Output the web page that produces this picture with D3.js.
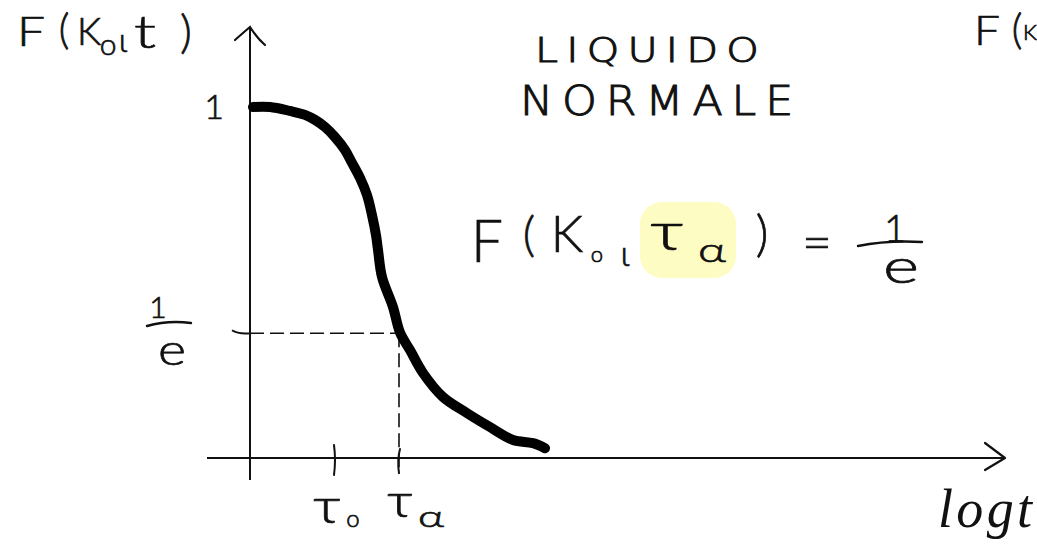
<!DOCTYPE html>
<html>
<head>
<meta charset="utf-8">
<script src="https://cdn.jsdelivr.net/npm/d3@7"></script>
<style>
  html, body { margin: 0; padding: 0; background: #fff; overflow: hidden; }
  svg { display: block; }
  text { font-family: Lato, "Open Sans", "DejaVu Sans", sans-serif; font-weight: 300;
         fill: #111; stroke: #111; stroke-width: 0.7px; text-anchor: middle; }
</style>
</head>
<body>
<svg id="chart" width="1037" height="544"></svg>
<script>
// Relaxation function F(k0, t) of a normal liquid versus log t (arbitrary units)
const logTime = [0.06, 0.40, 0.80, 1.10, 1.30, 1.50, 1.70, 1.90, 2.04, 2.20, 2.34, 2.44, 2.52, 2.56, 2.64, 2.86, 3.00, 3.20, 3.46, 3.86, 4.34, 4.80, 5.26, 5.66, 5.90];
const fValues = [1.000, 1.000, 0.989, 0.978, 0.964, 0.944, 0.916, 0.880, 0.844, 0.802, 0.754, 0.698, 0.642, 0.601, 0.525, 0.441, 0.370, 0.321, 0.257, 0.190, 0.145, 0.106, 0.070, 0.061, 0.047];

// Marked times on the log t axis
const tickNames = ["τ0", "τα"];
const tickTimes = [1.68, 2.98];

// Marked levels on the F axis
const levelNames = ["1", "1/e"];
const levelValues = [1, 1 / Math.E];

const svg = d3.select("#chart");

const x = d3.scaleLinear().domain([0, 15]).range([250, 1000]);
const y = d3.scaleLinear().domain([0, 1]).range([465, 107]);

const axisY = 458;           // where the log t axis is drawn
const ink = "#111";

// ---- axes ----
svg.append("line")
  .attr("x1", x(-0.86)).attr("x2", x(15.1))
  .attr("y1", axisY).attr("y2", axisY)
  .attr("stroke", ink).attr("stroke-width", 2);
svg.append("path")
  .attr("d", `M${x(14.7)},${axisY - 15} L${x(15.1)},${axisY} L${x(14.7)},${axisY + 12}`)
  .attr("fill", "none").attr("stroke", ink).attr("stroke-width", 2.2)
  .attr("stroke-linecap", "round").attr("stroke-linejoin", "round");

svg.append("line")
  .attr("x1", x(0)).attr("x2", x(0))
  .attr("y1", 480).attr("y2", 28)
  .attr("stroke", ink).attr("stroke-width", 2);
svg.append("path")
  .attr("d", `M${x(0) - 15},${40} Q${x(0) - 6},${32} ${x(0)},${27} Q${x(0) + 7},${38} ${x(0) + 15},${45}`)
  .attr("fill", "none").attr("stroke", ink).attr("stroke-width", 2.2)
  .attr("stroke-linecap", "round");

// ---- ticks on the log t axis ----
tickTimes.forEach((t, i) => {
  const px = x(t);
  svg.append("path")
    .attr("d", i === 0
      ? `M${px},${axisY - 13} Q${px + 2},${axisY + 2} ${px},${axisY + 17}`
      : `M${px + 1},${axisY - 9} Q${px - 2},${axisY + 2} ${px},${axisY + 15}`)
    .attr("fill", "none").attr("stroke", ink).attr("stroke-width", 2)
    .attr("stroke-linecap", "round");
});

// ---- tick at F = 1/e and dashed guides ----
const yE = y(levelValues[1]);
svg.append("path")
  .attr("d", `M${x(0) - 18},${yE - 3} Q${x(0) - 12},${yE + 1} ${x(0)},${yE}`)
  .attr("fill", "none").attr("stroke", ink).attr("stroke-width", 1.8);
svg.append("line")
  .attr("x1", x(0)).attr("x2", x(tickTimes[1]))
  .attr("y1", yE).attr("y2", yE)
  .attr("stroke", ink).attr("stroke-width", 1.6)
  .attr("stroke-dasharray", "14,6");
svg.append("line")
  .attr("x1", x(tickTimes[1])).attr("x2", x(tickTimes[1]))
  .attr("y1", yE).attr("y2", axisY + 16)
  .attr("stroke", ink).attr("stroke-width", 1.6)
  .attr("stroke-dasharray", "14,6");

// ---- relaxation curve ----
const line = d3.line()
  .x((d, i) => x(logTime[i]))
  .y(d => y(d))
  .curve(d3.curveCatmullRom.alpha(0.5));
svg.append("path")
  .attr("d", line(fValues))
  .attr("fill", "none").attr("stroke", "#000")
  .attr("stroke-width", 10)
  .attr("stroke-linecap", "round").attr("stroke-linejoin", "round");

// ---- helpers for placed glyphs (centre x, baseline y) ----
function glyph(txt, gx, gy, size, extra) {
  const t = svg.append("text").attr("x", gx).attr("y", gy)
    .attr("font-size", size).text(txt);
  if (extra) extra(t);
  return t;
}
function bar(d) {
  svg.append("path").attr("d", d)
    .attr("fill", "none").attr("stroke", ink).attr("stroke-width", 2.4)
    .attr("stroke-linecap", "round");
}
// a stacked fraction: numerator and denominator in one text element
function fraction(num, den) {
  const t = svg.append("text");
  t.append("tspan").attr("x", num.x).attr("y", num.y)
    .attr("font-size", num.size).text("1");
  t.append("tspan").attr("x", den.x).attr("y", den.y)
    .attr("font-size", den.size).attr("textLength", den.w)
    .attr("lengthAdjust", "spacingAndGlyphs").text("e");
  return t;
}
const wide = w => t => t.attr("textLength", w).attr("lengthAdjust", "spacingAndGlyphs");

// axis title F(k0,t)
glyph("F", 31, 46, 42, wide(28));
glyph("(", 64, 44, 41);
glyph("K", 89, 45, 38);
glyph("o", 108, 55, 30);
glyph("ι", 123, 52, 34);
glyph("t", 145, 48, 46, wide(22));
glyph(")", 186, 48, 46);

// partial title at the right edge
glyph("F", 987, 45, 42, wide(26));
glyph("(", 1017, 44, 41);
glyph("K", 1023, 40, 22, t => t.style("text-anchor", "start"));

// level labels
glyph(levelNames[0], 214, 119, 34);
bar("M147,326 Q168,320 191,323");
fraction({ x: 158, y: 318, size: 30 }, { x: 172, y: 365, size: 44, w: 28 });

// time labels
glyph("τ", 327, 523, 50, wide(28));
glyph("o", 353, 527, 24);
glyph("τ", 400, 517, 48, wide(26));
glyph("α", 431, 527, 30, wide(26));

// x axis title
glyph("logt", 985, 527, 54, t => t.style("font-style", "italic")
  .style("font-family", "'Liberation Serif', serif").style("font-weight", 400)
  .style("stroke-width", 0).attr("textLength", 94).attr("lengthAdjust", "spacing"));

// LIQUIDO NORMALE
const caps = w => t => t.style("text-anchor", "start")
  .style("font-family", "'DejaVu Sans', sans-serif").style("font-weight", 200)
  .style("letter-spacing", "0.2em").style("stroke-width", "1px")
  .attr("textLength", w).attr("lengthAdjust", "spacingAndGlyphs");
glyph("LIQUIDO", 535, 62, 34, caps(232));
glyph("NORMALE", 520, 115, 40, caps(282));

// F(k0, τα) = 1/e with highlighted τα
svg.append("rect")
  .attr("x", 640).attr("y", 202).attr("width", 96).attr("height", 76)
  .attr("rx", 22).attr("fill", "#fdfcc2");
glyph("F", 487, 262, 60, wide(32));
glyph("(", 529, 251, 48);
glyph("K", 567, 252, 51);
glyph("o", 597, 262, 22);
glyph("ι", 625, 266, 36);
glyph("τ", 667, 250, 54, wide(34));
glyph("α", 712, 262, 34, wide(28));
glyph(")", 762, 251, 49);
glyph("=", 817, 260, 50, wide(30));
bar("M858,246 Q888,240 922,242");
fraction({ x: 895, y: 242, size: 38 }, { x: 901, y: 283, size: 48, w: 36 });
</script>
</body>
</html>
